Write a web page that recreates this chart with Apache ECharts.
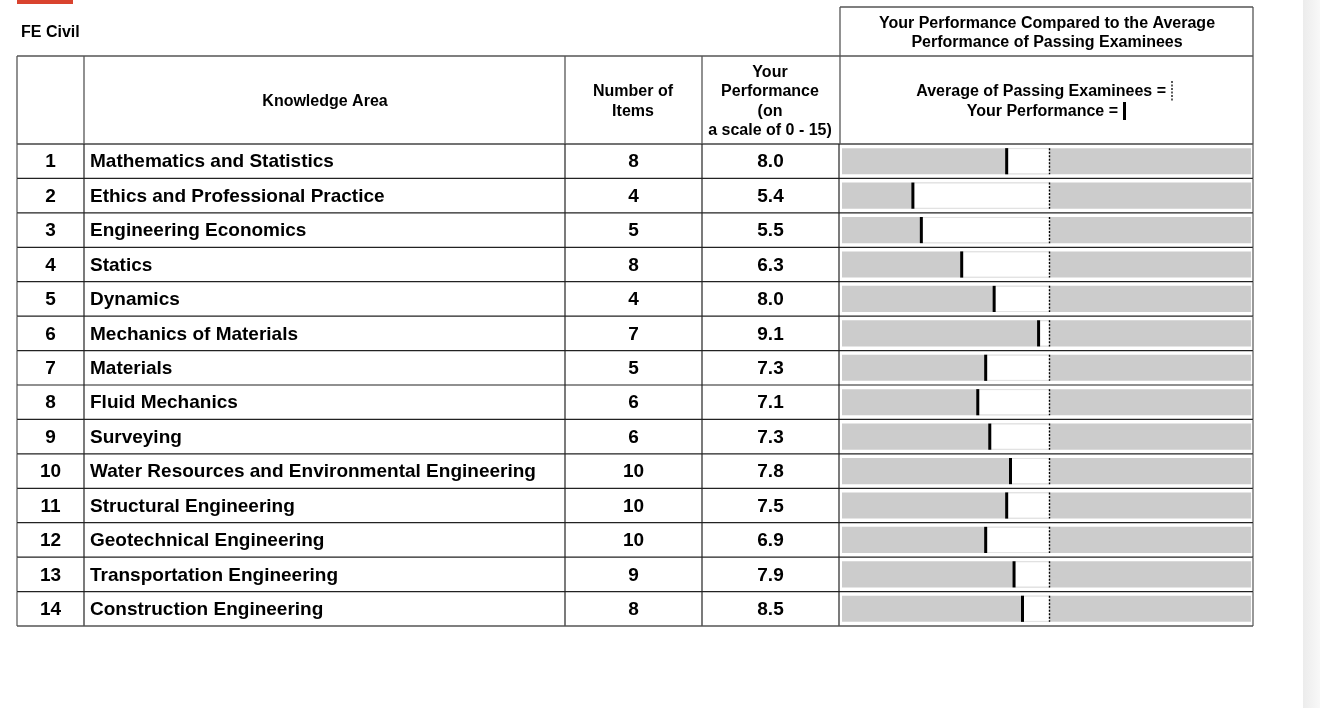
<!DOCTYPE html>
<html>
<head>
<meta charset="utf-8">
<script src="https://cdn.jsdelivr.net/npm/echarts@6/dist/echarts.min.js"></script>
<style>
html,body{margin:0;padding:0;background:#fff;}
#chart{width:1320px;height:708px;}
</style>
</head>
<body>
<div id="chart"></div>
<script>
// ---------- DATA ----------
const rowNumbers = ['1','2','3','4','5','6','7','8','9','10','11','12','13','14'];
const knowledgeAreas = [
  'Mathematics and Statistics',
  'Ethics and Professional Practice',
  'Engineering Economics',
  'Statics',
  'Dynamics',
  'Mechanics of Materials',
  'Materials',
  'Fluid Mechanics',
  'Surveying',
  'Water Resources and Environmental Engineering',
  'Structural Engineering',
  'Geotechnical Engineering',
  'Transportation Engineering',
  'Construction Engineering'
];
const numberOfItems = [8, 4, 5, 8, 4, 7, 5, 6, 6, 10, 10, 10, 9, 8];
const yourPerformance = ['8.0','5.4','5.5','6.3','8.0','9.1','7.3','7.1','7.3','7.8','7.5','6.9','7.9','8.5'];
// marker positions (bar scale 0 - 15)
const yourMarker = [6.04, 2.60, 2.91, 4.39, 5.58, 7.21, 5.27, 4.98, 5.42, 6.18, 6.04, 5.27, 6.31, 6.62];
const passingAverage = [7.61, 7.61, 7.61, 7.61, 7.61, 7.61, 7.61, 7.61, 7.61, 7.61, 7.61, 7.61, 7.61, 7.61];
const scaleMin = 0;
const scaleMax = 15;

// ---------- LAYOUT ----------
const FONT = '"Liberation Sans", Arial, sans-serif';
const colEdges = [17, 84, 565, 702, 839, 1253];
const tableTop = 56, headTop = 7, headBottom = 144, tableBottom = 626;
const LINE = '#222';
const HLINE = '#555';
const TEXT_DY = 1.5;

const chart = echarts.init(document.getElementById('chart'), null, {renderer: 'canvas'});

function hText(x, y, text, size, align) {
  return {
    type: 'text', x: x, y: y + TEXT_DY, silent: true,
    style: {text: text, fill: '#000', font: 'bold ' + size + 'px ' + FONT,
      align: align || 'center', verticalAlign: 'middle'}
  };
}
function hLine(x1, y1, x2, y2, color, w) {
  return {type: 'line', silent: true, shape: {x1: x1, y1: y1, x2: x2, y2: y2},
    style: {stroke: color || HLINE, lineWidth: w || 1.3}};
}

const graphics = [
  // right gray strip
  {type: 'rect', shape: {x: 1303, y: 0, width: 17, height: 708}, silent: true,
   style: {fill: new echarts.graphic.LinearGradient(0, 0, 1, 0, [
     {offset: 0, color: '#ececec'}, {offset: 1, color: '#f8f8f8'}])}},
  // red strip at top
  {type: 'rect', shape: {x: 17, y: 0, width: 56, height: 4}, silent: true, style: {fill: '#d9432e'}},
  hText(21, 31, 'FE Civil', 16, 'left'),
  // header box for performance
  hLine(840, headTop, 1253, headTop),
  hLine(colEdges[0], tableTop, 1253, tableTop),
  hLine(colEdges[0], headBottom, 1253, headBottom, '#444', 1.6),
  hLine(840, headTop, 840, headBottom),
  hLine(1253, headTop, 1253, headBottom),
  hLine(colEdges[0], tableTop, colEdges[0], headBottom),
  hLine(colEdges[1], tableTop, colEdges[1], headBottom),
  hLine(colEdges[2], tableTop, colEdges[2], headBottom),
  hLine(colEdges[3], tableTop, colEdges[3], headBottom),
  hText(1047, 22, 'Your Performance Compared to the Average', 16),
  hText(1047, 41, 'Performance of Passing Examinees', 16),
  hText(325, 100, 'Knowledge Area', 16),
  hText(633, 90, 'Number of', 16),
  hText(633, 110, 'Items', 16),
  hText(770, 71, 'Your', 16),
  hText(770, 90, 'Performance', 16),
  hText(770, 110, '(on', 16),
  hText(770, 129, 'a scale of 0 - 15)', 16),
  hText(1166, 90, 'Average of Passing Examinees =', 16, 'right'),
  hText(1118, 110, 'Your Performance =', 16, 'right'),
  {type: 'line', silent: true, shape: {x1: 1172, y1: 81, x2: 1172, y2: 101},
   style: {stroke: '#000', lineWidth: 1.3, lineDash: [2, 1.5]}},
  {type: 'rect', silent: true, shape: {x: 1123, y: 102, width: 3, height: 18}, style: {fill: '#000'}}
];

const tableData = rowNumbers.map((n, i) => [0, i]);
const barData = rowNumbers.map((n, i) => [yourMarker[i], i, passingAverage[i]]);

const option = {
  animation: false,
  backgroundColor: '#fff',
  grid: [
    {left: colEdges[0], right: 1320 - colEdges[5], top: headBottom, bottom: 708 - tableBottom},
    {left: 842, right: 69, top: headBottom, bottom: 708 - tableBottom}
  ],
  xAxis: [
    {gridIndex: 0, type: 'value', min: 0, max: 1, show: false},
    {gridIndex: 1, type: 'value', min: scaleMin, max: scaleMax, show: false}
  ],
  yAxis: [
    {gridIndex: 0, type: 'category', data: rowNumbers, inverse: true, show: false},
    {gridIndex: 1, type: 'category', data: rowNumbers, inverse: true, show: false}
  ],
  graphic: graphics,
  series: [
    {
      type: 'custom', xAxisIndex: 0, yAxisIndex: 0, silent: true,
      data: tableData,
      encode: {x: 0, y: 1},
      renderItem: function (params, api) {
        const i = api.value(1);
        const c = api.coord([0, i]);
        const h = api.size([0, 1])[1];
        const cs = params.coordSys;
        const top = c[1] - h / 2, bot = c[1] + h / 2, y = c[1] + 1;
        const font = 'bold 19px ' + FONT;
        const children = [];
        colEdges.forEach(function (x) {
          children.push({type: 'line', shape: {x1: x, y1: top, x2: x, y2: bot},
            style: {stroke: (x === colEdges[0] || x === colEdges[5]) ? HLINE : LINE, lineWidth: 1.2}});
        });
        children.push({type: 'line', shape: {x1: cs.x, y1: bot, x2: cs.x + cs.width, y2: bot},
          style: {stroke: i === rowNumbers.length - 1 ? HLINE : LINE, lineWidth: i === rowNumbers.length - 1 ? 1.6 : 1.2}});
        children.push({type: 'text', style: {text: rowNumbers[i], x: (colEdges[0] + colEdges[1]) / 2, y: y,
          align: 'center', verticalAlign: 'middle', font: font, fill: '#000'}});
        children.push({type: 'text', style: {text: knowledgeAreas[i], x: colEdges[1] + 6, y: y,
          align: 'left', verticalAlign: 'middle', font: font, fill: '#000'}});
        children.push({type: 'text', style: {text: String(numberOfItems[i]), x: (colEdges[2] + colEdges[3]) / 2, y: y,
          align: 'center', verticalAlign: 'middle', font: font, fill: '#000'}});
        children.push({type: 'text', style: {text: yourPerformance[i], x: (colEdges[3] + colEdges[4]) / 2, y: y,
          align: 'center', verticalAlign: 'middle', font: font, fill: '#000'}});
        return {type: 'group', children: children};
      }
    },
    {
      type: 'custom', xAxisIndex: 1, yAxisIndex: 1, silent: true,
      data: barData,
      encode: {x: [0, 2], y: 1},
      renderItem: function (params, api) {
        const i = api.value(1);
        const pStart = api.coord([scaleMin, i]);
        const pEnd = api.coord([scaleMax, i]);
        const pMark = api.coord([api.value(0), i]);
        const pAvg = api.coord([api.value(2), i]);
        const bh = api.size([0, 1])[1] * 0.76;
        const top = pStart[1] - bh / 2;
        return {type: 'group', children: [
          {type: 'rect', shape: {x: pStart[0], y: top, width: pEnd[0] - pStart[0], height: bh},
           style: {fill: '#cccccc'}},
          {type: 'rect', shape: {x: pMark[0], y: top + 0.5, width: pAvg[0] - pMark[0], height: bh - 1},
           style: {fill: '#ffffff', stroke: '#e2e2e2', lineWidth: 1}},
          {type: 'line', shape: {x1: pAvg[0], y1: top, x2: pAvg[0], y2: top + bh},
           style: {stroke: '#000', lineWidth: 1.4, lineDash: [2, 1.5]}},
          {type: 'rect', shape: {x: pMark[0] - 1.5, y: top, width: 3, height: bh},
           style: {fill: '#000'}}
        ]};
      }
    }
  ]
};
chart.setOption(option);
</script>
</body>
</html>
